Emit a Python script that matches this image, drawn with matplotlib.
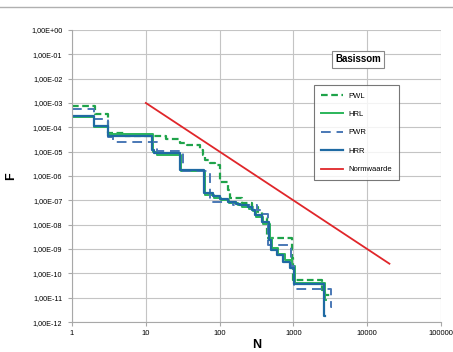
import matplotlib
matplotlib.use('Agg')
import matplotlib.pyplot as plt
from matplotlib.lines import Line2D

plt.rcParams['font.family'] = ['Liberation Sans', 'DejaVu Sans']

# step curves (N, F)
pwl_n = [1, 2.05, 3.05, 5.2, 18.8, 29, 36, 55, 60, 64, 74, 87, 102, 131, 139, 200, 277, 333, 380, 440, 966, 1000, 2460, 2700, 3160]
pwl_f = [7.5e-4, 3.5e-4, 5.9e-5, 4.2e-5, 3.3e-5, 2.3e-5, 1.9e-5, 1.2e-5, 7.3e-6, 4.6e-6, 3.4e-6, 2.8e-6, 5.7e-7, 2.7e-7, 1.25e-7, 7.8e-8, 5.3e-8, 3.3e-8, 1.9e-8, 2.9e-9, 4.3e-10, 5.3e-11, 2e-11, 1.3e-11, 1.3e-11]

hrl_n = [1, 2, 3.05, 12.5, 14, 30, 63, 85, 105, 135, 175, 200, 250, 285, 310, 390, 480, 510, 620, 760, 950, 1050, 2650, 2750]
hrl_f = [2.6e-4, 1.0e-4, 5.2e-5, 1.0e-5, 7.5e-6, 1.6e-6, 1.7e-7, 1.3e-7, 1.0e-7, 8e-8, 6.5e-8, 5.5e-8, 4.5e-8, 3.5e-8, 2e-8, 1.1e-8, 2.8e-9, 1.1e-9, 6e-10, 3.5e-10, 2e-10, 4.2e-11, 8e-12, 8e-12]

pwr_n = [1, 2, 3.05, 3.6, 14, 32, 74, 150, 318, 375, 455, 930, 1030, 3250, 3350]
pwr_f = [5.6e-4, 2.2e-4, 4e-5, 2.6e-5, 1.07e-5, 1.6e-6, 8.7e-8, 6.4e-8, 4e-8, 2.7e-8, 1.45e-9, 2e-10, 2.2e-11, 4.1e-12, 4.1e-12]

hrr_n = [1, 2, 3.05, 12, 13, 29, 62, 82, 102, 131, 168, 190, 245, 277, 303, 380, 470, 500, 605, 730, 910, 1030, 2600, 2700]
hrr_f = [2.9e-4, 1.1e-4, 4.5e-5, 1.2e-5, 8.7e-6, 1.8e-6, 2e-7, 1.5e-7, 1.1e-7, 8.5e-8, 7e-8, 6.4e-8, 5.3e-8, 4e-8, 2.5e-8, 1.3e-8, 2.3e-9, 9e-10, 5.6e-10, 2.9e-10, 1.6e-10, 3.6e-11, 1.8e-12, 1.8e-12]

norm_n = [10, 20000]
norm_f = [1e-3, 2.5e-10]

x_ticks = [1, 10, 100, 1000, 10000, 100000]
x_labels = ['1', '10', '100', '1000', '10000', '100000']
y_ticks = [10.0 ** -k for k in range(0, 13)]
y_labels = ['1,00E+00'] + ['1,00E-%02d' % k for k in range(1, 13)]

fig = plt.figure(figsize=(4.53, 3.52), dpi=100)
ax = fig.add_axes([0.159, 0.085, 0.8145, 0.83])

ax.plot(pwl_n, pwl_f, drawstyle='steps-post', color='#1fa34a', lw=1.6, ls=(0, (3, 1.6)), label='PWL')
ax.plot(hrl_n, hrl_f, drawstyle='steps-post', color='#2bb55a', lw=1.4, label='HRL')
ax.plot(pwr_n, pwr_f, drawstyle='steps-post', color='#4a78b5', lw=1.4, ls=(0, (5, 3)), label='PWR')
ax.plot(hrr_n, hrr_f, drawstyle='steps-post', color='#1f6aa3', lw=1.6, label='HRR')
ax.plot(norm_n, norm_f, color='#e0262a', lw=1.3, label='Normwaarde')

ax.set_xscale('log')
ax.set_yscale('log')
ax.set_xlim(1, 100000)
ax.set_ylim(1e-12, 1)
ax.set_xticks(x_ticks)
ax.set_xticklabels(x_labels, fontsize=5.5)
ax.set_yticks(y_ticks)
ax.set_yticklabels(y_labels, fontsize=5.2)
ax.minorticks_off()
ax.grid(True, color='#c4c4c4', lw=0.8)
ax.set_axisbelow(True)
for s in ['top', 'right']:
    ax.spines[s].set_visible(False)
for s in ['left', 'bottom']:
    ax.spines[s].set_color('#a8a8a8')
    ax.spines[s].set_linewidth(0.8)
ax.tick_params(axis='y', length=3, color='#a8a8a8', width=0.8, pad=4)
ax.tick_params(axis='x', length=3, color='#a8a8a8', width=0.8, pad=3)

ax.set_xlabel('N', fontsize=9, fontweight='bold', labelpad=1)
ax.set_ylabel('F', fontsize=9, fontweight='bold', labelpad=10)

leg = ax.legend(loc='upper left', bbox_to_anchor=(0.655, 0.81), fontsize=5.5, frameon=True,
                fancybox=False, edgecolor='#555555', handlelength=3.0, labelspacing=1.45,
                borderpad=0.9, handletextpad=0.6, borderaxespad=0)
leg.get_frame().set_linewidth(0.8)

ax.text(0.775, 0.9, 'Basissom', transform=ax.transAxes, ha='center', va='center',
        fontsize=7, fontweight='bold',
        bbox=dict(boxstyle='square,pad=0.35', fc='white', ec='#888888', lw=0.8))

fig.add_artist(Line2D([0, 1], [1 - 7 / 352, 1 - 7 / 352], color='#b0b0b0', lw=1, transform=fig.transFigure))

fig.savefig('out.png', dpi=100)
